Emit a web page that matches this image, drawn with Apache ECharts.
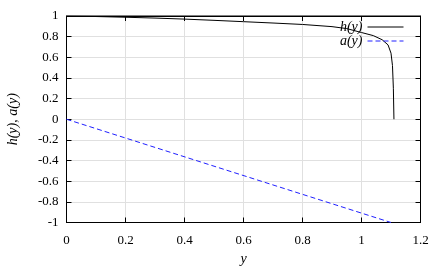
<!DOCTYPE html>
<html><head><meta charset="utf-8">
<script src="https://cdn.jsdelivr.net/npm/echarts@6/dist/echarts.min.js"></script>
<style>html,body{margin:0;padding:0;background:#fff}#c{width:445px;height:267px}</style>
</head><body><div id="c"></div>
<script>
const hX = [0,0.1,0.2,0.3,0.4,0.5,0.6,0.7,0.8,0.9,0.95,1.0,1.04,1.07,1.09,1.1,1.105,1.108,1.11];
const hY = [1,0.995,0.988,0.98,0.97,0.958,0.945,0.932,0.918,0.897,0.878,0.84,0.81,0.77,0.72,0.64,0.52,0.3,0];
const aX = [0,1.1];
const aY = [0,-1];
const xTicks = [0,0.2,0.4,0.6,0.8,1,1.2];
const yTicks = [-1,-0.8,-0.6,-0.4,-0.2,0,0.2,0.4,0.6,0.8,1];

const font = 'Liberation Serif';
const fmt = v => String(parseFloat(Number(v).toFixed(2)));
const chart = echarts.init(document.getElementById('c'));
const tickStyle = {show:true, inside:true, length:5, lineStyle:{color:'#000', width:1}};
chart.setOption({
  animation:false,
  backgroundColor:'#fff',
  grid:{left:66.5, right:24.5, top:16, bottom:44.5, show:true, borderColor:'#000', borderWidth:1, outerBoundsMode:'none', containLabel:false},
  legend:{
    data:[
      {name:'h(y)', lineStyle:{color:'#000', width:1, type:'solid'}},
      {name:'a(y)', lineStyle:{color:'#2020ff', width:1, type:[5,3]}}
    ],
    right:36, top:15, orient:'vertical', align:'right', itemGap:0,
    itemWidth:36, itemHeight:13,
    lineStyle:{width:1},
    itemStyle:{opacity:0, color:'transparent', borderWidth:0},
    textStyle:{fontFamily:font, fontStyle:'italic', fontSize:14, lineHeight:13, color:'#000', padding:[0,0,0,0]},
    selectedMode:false
  },
  xAxis:[{
    type:'value', min:0, max:1.2, interval:0.2,
    name:'y', nameLocation:'middle', nameGap:30,
    nameTextStyle:{fontFamily:font, fontStyle:'italic', fontSize:14, color:'#000'},
    axisLine:{show:true, onZero:false, lineStyle:{color:'#000'}},
    axisTick:tickStyle,
    axisLabel:{fontFamily:font, fontSize:13, color:'#000', margin:12, formatter:fmt},
    splitLine:{show:true, lineStyle:{color:'#e0e0e0', width:1}}
  },{
    type:'value', min:0, max:1.2, interval:0.2, position:'top',
    axisLine:{show:true, onZero:false, lineStyle:{color:'#000'}},
    axisTick:tickStyle, axisLabel:{show:false}, splitLine:{show:false}
  }],
  yAxis:[{
    type:'value', min:-1, max:1, interval:0.2,
    name:'h(y), a(y)', nameLocation:'middle', nameGap:46, nameRotate:90,
    nameTextStyle:{fontFamily:font, fontStyle:'italic', fontSize:14, color:'#000'},
    axisLine:{show:true, onZero:false, lineStyle:{color:'#000'}},
    axisTick:tickStyle,
    axisLabel:{fontFamily:font, fontSize:13, color:'#000', margin:8, formatter:fmt},
    splitLine:{show:true, lineStyle:{color:'#e0e0e0', width:1}}
  },{
    type:'value', min:-1, max:1, interval:0.2, position:'right',
    axisLine:{show:true, onZero:false, lineStyle:{color:'#000'}},
    axisTick:tickStyle, axisLabel:{show:false}, splitLine:{show:false}
  }],
  series:[{
    name:'h(y)', type:'line', symbol:'none', smooth:false,
    data:hX.map((x,i)=>[x,hY[i]]),
    lineStyle:{color:'#000', width:1}, itemStyle:{color:'#000'}
  },{
    name:'a(y)', type:'line', symbol:'none',
    data:aX.map((x,i)=>[x,aY[i]]),
    lineStyle:{color:'#2020ff', width:1, type:[5,3]}, itemStyle:{color:'#2020ff'}
  }]
});
</script></body></html>
